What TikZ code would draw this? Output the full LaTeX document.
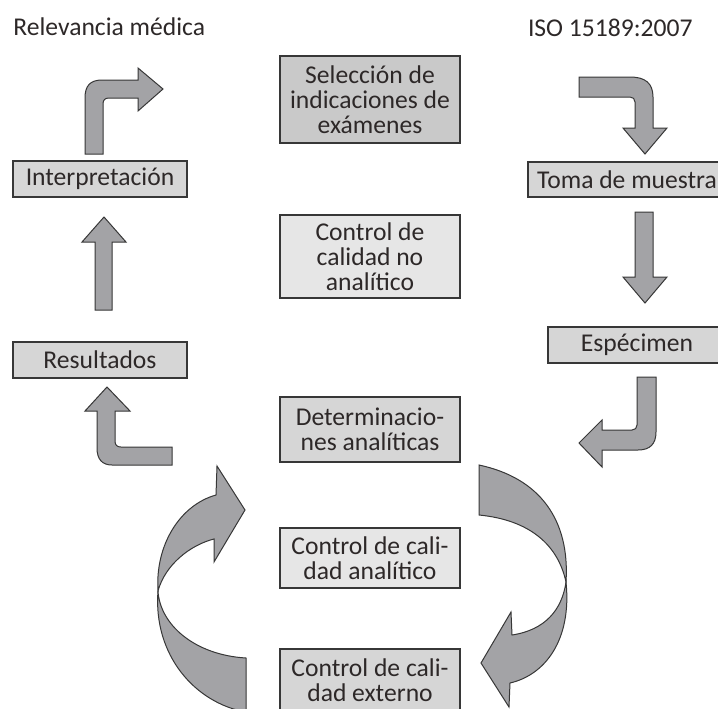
\documentclass[tikz,border=0pt]{standalone}
\usepackage{fontspec}
\setmainfont{Carlito}
\usepackage{tikz}
\definecolor{lab_dark}{RGB}{201, 201, 201}
\definecolor{lab_mid}{RGB}{214, 214, 214}
\definecolor{lab_light}{RGB}{230, 230, 230}
\definecolor{lab_arrow}{RGB}{163, 163, 166}
\definecolor{lab_line}{RGB}{55, 55, 55}
\definecolor{lab_text}{RGB}{45, 40, 40}
\tikzstyle{bx}=[rectangle,draw=lab_line,line width=0.6pt,inner sep=0pt,
  align=center,text=lab_text,font=\fontsize{12.8}{12.5}\selectfont]
\tikzstyle{lbl}=[inner sep=0pt,text=lab_text,font=\fontsize{12.8}{12.5}\selectfont]
\tikzstyle{blk}=[fill=lab_arrow,draw=lab_line,line width=0.5pt,line join=miter]

\begin{document}
\begin{tikzpicture}[x=0.5pt,y=-0.5pt]
    \useasboundingbox (0,0) rectangle (718,708);
    \node [style=lbl,anchor=west] (relev) at (13,27) {Relevancia médica};
    \node [style=lbl,anchor=east] (iso) at (693,28) {ISO 15189:2007};
    \node [style=bx,fill=lab_dark,minimum width=90pt,minimum height=43.5pt] (sel) at (370,99.5) {Selección de\\indicaciones de\\exámenes};
    \node [style=bx,fill=lab_mid,minimum width=87pt,minimum height=18pt] (interp) at (100,179) {Interpretación};
    \node [style=bx,fill=lab_mid,minimum width=99pt,minimum height=17.5pt] (toma) at (627,179.5) {Toma de muestra};
    \node [style=bx,fill=lab_light,minimum width=90pt,minimum height=41.5pt] (ncal) at (370,256.5) {Control de\\calidad no\\analítico};
    \node [style=bx,fill=lab_mid,minimum width=87pt,minimum height=18pt] (result) at (100,360) {Resultados};
    \node [style=bx,fill=lab_mid,minimum width=89pt,minimum height=18pt] (espec) at (637,345) {Espécimen};
    \node [style=bx,fill=lab_mid,minimum width=90pt,minimum height=32.5pt] (det) at (370,429.5) {Determinacio-\\nes analíticas};
    \node [style=bx,fill=lab_light,minimum width=90pt,minimum height=30pt] (acal) at (370,558) {Control de cali-\\dad analítico};
    \node [style=bx,fill=lab_mid,minimum width=90pt,minimum height=31.5pt,text depth=0pt] (ecal) at (370,680.5) {Control de cali-\\dad externo};
    % block arrows
    \draw [style=blk] (85,154) -- (85,98) .. controls (85,86) and (90,80) .. (102,80) -- (138,80)
      -- (138,68) -- (163,89) -- (138,111) -- (138,98) -- (109,98)
      .. controls (105,98) and (103,100) .. (103,104) -- (103,154) -- cycle;
    \draw [style=blk] (95,310) -- (95,242) -- (82,242) -- (104,217) -- (126,242) -- (112,242) -- (112,310) -- cycle;
    \draw [style=blk] (172,465) -- (112,465) .. controls (102,465) and (97,459) .. (97,448) -- (97,411)
      -- (85,411) -- (107,387) -- (130,411) -- (115,411) -- (115,441)
      .. controls (115,445) and (117,447) .. (121,447) -- (172,447) -- cycle;
    \draw [style=blk] (579,77) -- (630,77) .. controls (645,77) and (653,83) .. (653,97) -- (653,128)
      -- (667,128) -- (645,154) -- (623,128) -- (635,128) -- (635,102)
      .. controls (635,99) and (633,97) .. (630,97) -- (579,97) -- cycle;
    \draw [style=blk] (635,212) -- (653,212) -- (653,277) -- (667,277) -- (645,303) -- (623,277) -- (635,277) -- cycle;
    \draw [style=blk] (637,377) -- (656,377) -- (656,432) .. controls (656,444) and (650,450) .. (638,450)
      -- (602,450) -- (602,467) -- (579,443) -- (602,420) -- (602,430) -- (632,430)
      .. controls (635,430) and (637,428) .. (637,425) -- cycle;
    % twisted loop, left
    \draw [style=blk] (158,591) .. controls (155,545) and (180,505) .. (216,495) -- (217,466) -- (245,510)
      -- (214,562) -- (214,539) .. controls (190,545) and (165,565) .. (158,591) -- cycle;
    \draw [style=blk] (158,591) .. controls (160,625) and (195,655) .. (246,658) -- (246,712)
      .. controls (195,703) and (153,655) .. (158,591) -- cycle;
    % twisted loop, right
    \draw [style=blk] (479,465) .. controls (540,478) and (570,520) .. (566,582)
      .. controls (558,545) and (530,520) .. (479,515) -- cycle;
    \draw [style=blk] (566,582) .. controls (562,610) and (545,630) .. (512,635) -- (511,612) -- (481,663)
      -- (509,707) -- (510,683) .. controls (545,675) and (572,640) .. (566,582) -- cycle;
  \end{tikzpicture}
\end{document}
